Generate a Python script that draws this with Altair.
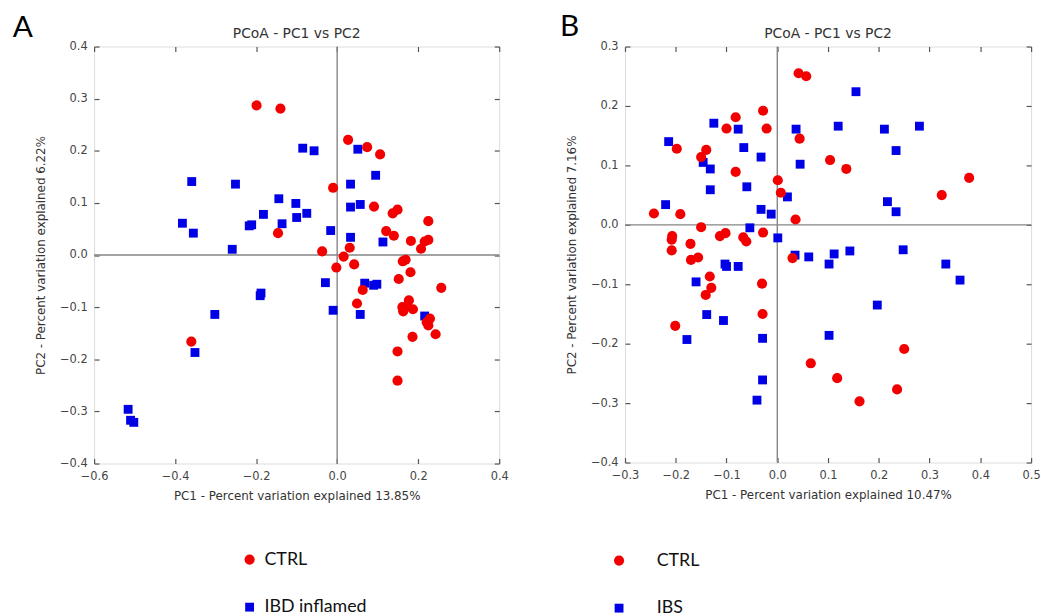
import altair as alt
import pandas as pd

# ---------------- Panel A data ----------------
a_ctrl_x = [-0.199, -0.140, -0.146, -0.010, -0.037, 0.027, 0.074, 0.106, 0.091, 0.137,
            0.149, 0.225, 0.121, 0.140, 0.182, 0.216, 0.225, 0.207, 0.031, 0.016,
            0.042, -0.002, 0.169, 0.162, 0.181, 0.152, 0.063, 0.257, 0.049, 0.177,
            0.161, 0.173, 0.187, 0.163, 0.229, 0.221, 0.225, 0.243, 0.186, 0.149,
            0.149, -0.360]
a_ctrl_y = [0.287, 0.281, 0.042, 0.129, 0.007, 0.221, 0.207, 0.193, 0.093, 0.080,
            0.087, 0.065, 0.046, 0.037, 0.027, 0.026, 0.029, 0.012, 0.014, -0.003,
            -0.018, -0.024, -0.009, -0.012, -0.033, -0.046, -0.067, -0.063, -0.093, -0.087,
            -0.100, -0.098, -0.104, -0.108, -0.122, -0.129, -0.135, -0.152, -0.157, -0.185,
            -0.241, -0.166]
a_ibd_x = [-0.359, -0.382, -0.355, -0.251, -0.259, -0.217, -0.211, -0.182, -0.144, -0.136,
           -0.102, -0.100, -0.075, -0.085, -0.057, -0.016, 0.051, 0.095, 0.033, 0.033,
           0.057, 0.033, 0.113, -0.029, 0.068, 0.090, 0.098, -0.010, 0.057, 0.216,
           -0.188, -0.190, -0.302, -0.351, -0.516, -0.510, -0.502]
a_ibd_y = [0.141, 0.061, 0.042, 0.136, 0.011, 0.056, 0.058, 0.078, 0.108, 0.060,
           0.099, 0.072, 0.080, 0.205, 0.200, 0.047, 0.203, 0.153, 0.136, 0.092,
           0.097, 0.034, 0.025, -0.053, -0.054, -0.058, -0.056, -0.106, -0.114, -0.117,
           -0.073, -0.078, -0.114, -0.187, -0.296, -0.317, -0.321]

# ---------------- Panel B data ----------------
b_ctrl_x = [0.042, 0.057, -0.028, -0.021, -0.082, -0.100, 0.044, -0.198, -0.140, -0.150,
            -0.082, 0.001, 0.007, -0.243, -0.191, 0.036, -0.150, -0.207, -0.208, -0.113,
            -0.102, -0.067, -0.061, -0.028, -0.208, -0.171, -0.170, -0.156, 0.030, 0.104,
            0.136, 0.378, 0.324, -0.133, -0.130, -0.141, -0.030, -0.029, -0.201, 0.066,
            0.118, 0.162, 0.236, 0.250]
b_ctrl_y = [0.255, 0.250, 0.192, 0.162, 0.181, 0.162, 0.145, 0.128, 0.126, 0.114,
            0.089, 0.075, 0.054, 0.019, 0.018, 0.009, -0.004, -0.019, -0.025, -0.019,
            -0.014, -0.021, -0.028, -0.013, -0.043, -0.032, -0.059, -0.055, -0.056, 0.109,
            0.094, 0.079, 0.050, -0.087, -0.106, -0.118, -0.099, -0.150, -0.170, -0.233,
            -0.258, -0.297, -0.277, -0.209]
b_ibs_x = [-0.214, -0.125, -0.077, -0.066, -0.032, 0.037, 0.045, -0.146, -0.132, -0.132,
           -0.060, -0.220, -0.032, -0.012, 0.020, -0.054, 0.001, 0.035, 0.062, 0.155,
           0.120, 0.211, 0.280, 0.234, 0.217, 0.234, 0.102, 0.112, 0.143, 0.248,
           0.332, 0.360, 0.197, 0.102, -0.103, -0.100, -0.077, -0.160, -0.139, -0.106,
           -0.178, -0.029, -0.029, -0.040]
b_ibs_y = [0.140, 0.171, 0.161, 0.130, 0.114, 0.161, 0.102, 0.105, 0.094, 0.059,
           0.064, 0.034, 0.026, 0.018, 0.047, -0.005, -0.022, -0.051, -0.054, 0.224,
           0.166, 0.161, 0.166, 0.125, 0.039, 0.022, -0.066, -0.049, -0.044, -0.042,
           -0.066, -0.093, -0.135, -0.186, -0.066, -0.070, -0.070, -0.096, -0.151, -0.161,
           -0.193, -0.191, -0.261, -0.295]

a_x_ticks = [-0.6, -0.4, -0.2, 0.0, 0.2, 0.4]
a_y_ticks = [-0.4, -0.3, -0.2, -0.1, 0.0, 0.1, 0.2, 0.3, 0.4]
b_x_ticks = [-0.3, -0.2, -0.1, 0.0, 0.1, 0.2, 0.3, 0.4, 0.5]
b_y_ticks = [-0.4, -0.3, -0.2, -0.1, 0.0, 0.1, 0.2, 0.3]

TITLE = "PCoA - PC1 vs PC2"
a_xtitle = "PC1 - Percent variation explained 13.85%"
a_ytitle = "PC2 - Percent variation explained 6.22%"
b_xtitle = "PC1 - Percent variation explained 10.47%"
b_ytitle = "PC2 - Percent variation explained 7.16%"

RED = "#f20000"
BLUE = "#0000e6"
FRAME = "#858585"
AXFONT = "DejaVu Sans"


def make_df(gx, gy, gname, cx, cy, cname):
    d1 = pd.DataFrame({"x": gx, "y": gy, "group": gname})
    d2 = pd.DataFrame({"x": cx, "y": cy, "group": cname})
    return pd.concat([d1, d2], ignore_index=True)


def panel(df, groups, xdom, xticks, ydom, yticks, xtitle, ytitle, W, H,
          letter, letter_xy, legend_xy, label_offset):
    sx = alt.Scale(domain=xdom, nice=False, zero=False)
    sy = alt.Scale(domain=ydom, nice=False, zero=False)
    zero = pd.DataFrame({"z": [0.0]})

    common = dict(labelFont=AXFONT, labelFontSize=11.5, labelColor="#444",
                  titleFont=AXFONT, titleFontSize=12, titleFontWeight="normal",
                  titleColor="#333", grid=False, domain=False, ticks=False)
    ax_x = alt.Axis(orient="bottom", values=xticks, format=".1f", title=xtitle,
                    labelPadding=7, titlePadding=9, labelFlush=False, **common)
    ax_y = alt.Axis(orient="left", values=yticks, format=".1f", title=ytitle,
                    labelPadding=7, titlePadding=12, labelFlush=False, **common)

    tick_common = dict(labels=False, domain=False, grid=False, ticks=True,
                       tickSize=5, tickColor="#555", tickWidth=1.2, title=None)

    legend = alt.Legend(orient="none", legendX=legend_xy[0], legendY=legend_xy[1],
                        title=None, labelFont="Lato", labelFontSize=18,
                        labelColor="#111", symbolSize=110, rowPadding=30,
                        labelOffset=label_offset, padding=0, symbolStrokeWidth=0)

    pts = alt.Chart(df).mark_point(filled=True, opacity=1, strokeWidth=0).encode(
        x=alt.X("x:Q", scale=sx, axis=ax_x),
        y=alt.Y("y:Q", scale=sy, axis=ax_y),
        color=alt.Color("group:N", scale=alt.Scale(domain=groups, range=[RED, BLUE]),
                        legend=legend),
        shape=alt.Shape("group:N", scale=alt.Scale(domain=groups, range=["circle", "square"]),
                        legend=legend),
        size=alt.Size("group:N", scale=alt.Scale(domain=groups, range=[105, 80]), legend=None),
    )

    vrule = alt.Chart(zero).mark_rule(color=FRAME, strokeWidth=1.4).encode(
        x=alt.X("z:Q", scale=sx,
                axis=alt.Axis(orient="top", offset=-H, values=xticks, **tick_common)))
    hrule = alt.Chart(zero).mark_rule(color=FRAME, strokeWidth=1.4).encode(
        y=alt.Y("z:Q", scale=sy,
                axis=alt.Axis(orient="right", offset=-W, values=yticks, **tick_common)))
    ghost = alt.Chart(zero).mark_point(opacity=0).encode(
        x=alt.X("z:Q", scale=sx,
                axis=alt.Axis(orient="bottom", offset=-H, values=xticks, **tick_common)),
        y=alt.Y("z:Q", scale=sy,
                axis=alt.Axis(orient="left", offset=-W, values=yticks, **tick_common)))
    lab = alt.Chart(pd.DataFrame({"t": [letter]})).mark_text(
        font="Lato", fontSize=30, color="#000", align="center", baseline="middle"
    ).encode(x=alt.value(letter_xy[0]), y=alt.value(letter_xy[1]), text="t:N")
    ttl = alt.Chart(pd.DataFrame({"t": [TITLE]})).mark_text(
        font=AXFONT, fontSize=14, color="#333", align="center", baseline="alphabetic"
    ).encode(x=alt.value(W / 2), y=alt.value(-9), text="t:N")

    return alt.layer(vrule, hrule, ghost, pts, lab, ttl).resolve_axis(
        x="independent", y="independent"
    ).properties(width=W, height=H)


df_a = make_df(a_ibd_x, a_ibd_y, "IBD inflamed", a_ctrl_x, a_ctrl_y, "CTRL")
df_b = make_df(b_ibs_x, b_ibs_y, "IBS", b_ctrl_x, b_ctrl_y, "CTRL")

pa = panel(df_a, ["CTRL", "IBD inflamed"], [-0.6, 0.4], a_x_ticks, [-0.4, 0.4], a_y_ticks,
           a_xtitle, a_ytitle, 409, 421, "A", (-72, -19), (148, 509), 6)
pb = panel(df_b, ["CTRL", "IBS"], [-0.3, 0.5], b_x_ticks, [-0.4, 0.3], b_y_ticks,
           b_xtitle, b_ytitle, 410, 420, "B", (-56, -20), (-15, 510), 29)

chart = alt.hconcat(pa, pb, spacing=50).resolve_scale(
    color="independent", shape="independent", size="independent"
).properties(
    padding={"left": 12, "top": 8, "right": 0, "bottom": 0}
).configure_view(
    stroke=FRAME, strokeWidth=1.4
).configure(background="white")

chart.save("out.html", embed_options={"renderer": "svg", "actions": False})
